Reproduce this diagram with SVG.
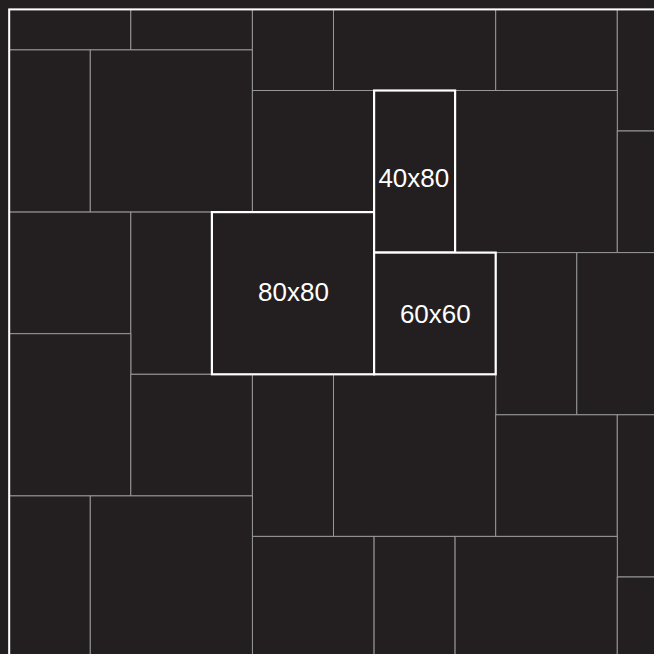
<svg xmlns="http://www.w3.org/2000/svg" width="654" height="654" viewBox="0 0 654 654">
<style>
.c{fill:#231f20;stroke:#979797;stroke-width:1}
.h{fill:#231f20;stroke:#ffffff;stroke-width:2.2}
.t{fill:#ffffff;font-family:"Liberation Sans",Arial,sans-serif;font-size:26px;text-anchor:middle}
</style>
<rect x="0" y="0" width="654" height="654" fill="#231f20"/>
<g id="tiles">
<rect id="tA" class="c" x="9.2" y="9.4" width="121.6" height="40.5"/>
<rect id="tB" class="c" x="130.8" y="9.4" width="121.6" height="40.5"/>
<rect id="tC" class="c" x="9.2" y="49.9" width="81.1" height="162.2"/>
<rect id="tD" class="c" x="90.3" y="49.9" width="162.1" height="162.2"/>
<rect id="tE" class="c" x="252.4" y="9.4" width="81.1" height="81.1"/>
<rect id="tF" class="c" x="333.5" y="9.4" width="162.2" height="81.1"/>
<rect id="tG" class="c" x="495.7" y="9.4" width="121.6" height="81.1"/>
<rect id="tH" class="c" x="617.3" y="9.4" width="81.1" height="121.6"/>
<rect id="tI" class="c" x="252.4" y="90.5" width="121.7" height="121.6"/>
<rect id="tJ" class="c" x="455.1" y="90.5" width="162.2" height="162.1"/>
<rect id="tK" class="c" x="617.3" y="131.0" width="81.1" height="121.6"/>
<rect id="tL" class="c" x="9.2" y="212.1" width="121.6" height="121.6"/>
<rect id="tM" class="c" x="130.8" y="212.1" width="81.1" height="162.2"/>
<rect id="tN" class="c" x="9.2" y="333.7" width="121.6" height="162.2"/>
<rect id="tO" class="c" x="130.8" y="374.3" width="121.6" height="121.6"/>
<rect id="tP" class="c" x="495.7" y="252.6" width="81.1" height="162.2"/>
<rect id="tQ" class="c" x="576.8" y="252.6" width="121.6" height="162.2"/>
<rect id="tR" class="c" x="252.4" y="374.3" width="81.1" height="162.1"/>
<rect id="tS" class="c" x="333.5" y="374.3" width="162.2" height="162.1"/>
<rect id="tT" class="c" x="252.4" y="536.4" width="121.7" height="162.1"/>
<rect id="tU" class="c" x="374.1" y="536.4" width="81.0" height="162.1"/>
<rect id="tV" class="c" x="495.7" y="414.8" width="121.6" height="121.6"/>
<rect id="tW" class="c" x="617.3" y="414.8" width="81.1" height="162.2"/>
<rect id="tX" class="c" x="455.1" y="536.4" width="162.2" height="162.1"/>
<rect id="tY" class="c" x="617.3" y="577.0" width="81.1" height="121.6"/>
<rect id="tZ" class="c" x="9.2" y="495.9" width="81.1" height="202.6"/>
<rect id="tAA" class="c" x="90.3" y="495.9" width="162.1" height="202.6"/>
</g>
<rect id="border" x="9.2" y="9.4" width="700" height="700" fill="none" stroke="#ffffff" stroke-width="2"/>
<g id="n80x80">
<rect class="h" x="211.9" y="212.1" width="162.2" height="162.2"/>
<text class="t" x="293.5" y="301">80x80</text>
</g>
<g id="n40x80">
<rect class="h" x="374.1" y="90.5" width="81.0" height="162.1"/>
<text class="t" x="413.8" y="187.3">40x80</text>
</g>
<g id="n60x60">
<rect class="h" x="374.1" y="252.6" width="121.6" height="121.7"/>
<text class="t" x="435.3" y="323.3">60x60</text>
</g>
<g id="connectors"/>
</svg>
